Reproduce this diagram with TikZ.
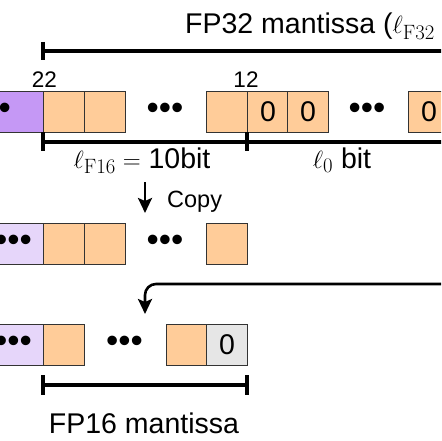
\documentclass[tikz,border=0pt]{standalone}
\usepackage[no-math]{fontspec}
\setmainfont{Liberation Sans}
\usetikzlibrary{arrows.meta}
\definecolor{orng}{HTML}{FFCC99}
\definecolor{purp}{HTML}{C598F5}
\definecolor{lavn}{HTML}{E6D6FA}
\definecolor{grayf}{HTML}{E6E6E6}
\definecolor{edge}{HTML}{333333}
\tikzset{
  bitbox/.style={draw=edge, line width=1.1pt, minimum width=41pt, minimum height=41pt,
    inner sep=0pt, anchor=north west, font=\fontsize{28.5}{30}\selectfont},
  obox/.style={bitbox, fill=orng},
  gbox/.style={bitbox, fill=grayf},
  pbox/.style={bitbox, fill=purp, minimum width=60pt},
  lbox/.style={bitbox, fill=lavn, minimum width=60pt},
  dots/.style={inner sep=0pt, font=\fontsize{35}{35}\selectfont},
  lbl/.style={inner sep=0pt, font=\fontsize{28.5}{30}\selectfont},
  idx/.style={inner sep=0pt, font=\fontsize{22.5}{24}\selectfont},
  brk/.style={line width=3.6pt},
  arr/.style={line width=2.6pt, -{Stealth[length=15pt,width=14pt,inset=3pt]}},
}
\begin{document}
\begin{tikzpicture}[x=1pt,y=-1pt]
\useasboundingbox (0,0) rectangle (441,441);
\clip (0,0) rectangle (441,441);

% top label and bracket
\node[lbl, anchor=base west] (t32) at (185,34) {FP32 mantissa ($\ell_{\mathrm{F32}} = 23$bit)};
\coordinate (tb1) at (43,51);
\coordinate (tb2) at (470,51);
\draw[brk] (tb1) -- (tb2);
\draw[line width=3.2pt] (43,42) -- (43,60);

% indices
\node[idx] (i22) at (44.5,80) {22};
\node[idx] (i12) at (246,80) {12};

% row 1
\node[pbox] (r1p) at (-17,91) {};
\node[dots] (r1d0) at (-7.5,111) {•••};
\node[obox] (r1a) at (43,91) {};
\node[obox] (r1b) at (84,91) {};
\node[dots] (r1d1) at (165,111) {•••};
\node[obox] (r1c) at (206,91) {};
\node[obox] (r1e) at (247,91) {0};
\node[obox] (r1f) at (287,91) {0};
\node[dots] (r1d2) at (367,111) {•••};
\node[obox] (r1g) at (408,91) {0};

% bracket under row 1
\coordinate (mb1) at (43,142);
\coordinate (mb2) at (470,142);
\draw[brk] (mb1) -- (mb2);
\draw[line width=3.2pt] (43,132) -- (43,151);
\draw[line width=3.2pt] (247,132) -- (247,151);
\node[lbl, anchor=base] (l16) at (142,168) {$\ell_{\mathrm{F16}} =$ 10bit};
\node[lbl, anchor=base] (l0) at (342,168) {$\ell_{0}$ bit};

% copy arrow
\coordinate (c1) at (145,182);
\coordinate (c2) at (145,213);
\draw[arr] (c1) -- (c2);
\node[inner sep=0pt, anchor=base west, font=\fontsize{23.5}{25}\selectfont] (cp) at (167,207) {Copy};

% row 2
\node[lbox] (r2p) at (-17,223) {};
\node[dots] (r2d0) at (13.5,243) {•••};
\node[obox] (r2a) at (43,223) {};
\node[obox] (r2b) at (84,223) {};
\node[dots] (r2d1) at (165,243) {•••};
\node[obox] (r2c) at (206,223) {};

% curved arrow
\coordinate (k1) at (470,284);
\coordinate (k2) at (145,284);
\coordinate (k3) at (145,314);
\draw[arr, rounded corners=11pt] (k1) -- (k2) -- (k3);

% row 3
\node[lbox] (r3p) at (-17,324) {};
\node[dots] (r3d0) at (13.5,344) {•••};
\node[obox] (r3a) at (43,324) {};
\node[dots] (r3d1) at (124.5,344) {•••};
\node[obox] (r3b) at (166,324) {};
\node[gbox] (r3c) at (206,324) {0};

% FP16 bracket
\coordinate (fb1) at (43,385);
\coordinate (fb2) at (247,385);
\draw[brk] (fb1) -- (fb2);
\draw[line width=3.2pt] (43,375) -- (43,395);
\draw[line width=3.2pt] (247,375) -- (247,395);
\node[lbl, anchor=base] (f16) at (144,433) {FP16 mantissa};
\end{tikzpicture}
\end{document}
